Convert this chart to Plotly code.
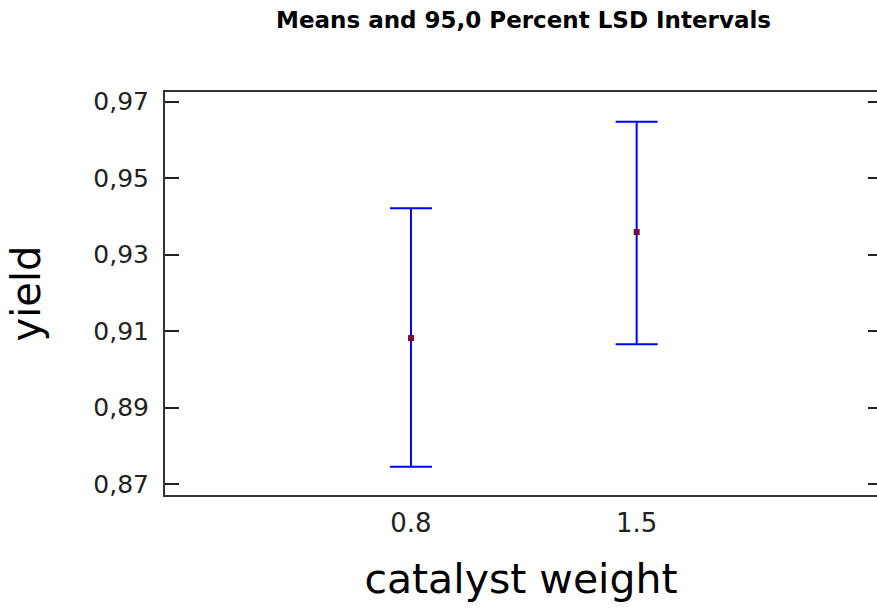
import plotly.graph_objects as go

categories = ["0.8", "1.5"]
means = [0.9082, 0.9359]
upper = [0.9421, 0.9647]
lower = [0.8746, 0.9066]
ytick_vals = [0.87, 0.89, 0.91, 0.93, 0.95, 0.97]
ytick_text = ["0,87", "0,89", "0,91", "0,93", "0,95", "0,97"]

err_plus = [u - m for u, m in zip(upper, means)]
err_minus = [m - l for m, l in zip(means, lower)]

FONT = "DejaVu Sans"
yrange = [0.8672, 0.9725]

fig = go.Figure()
fig.add_trace(go.Scatter(
    x=categories, y=means, mode="markers",
    marker=dict(symbol="square", size=6, color="#7a0a3a"),
    error_y=dict(type="data", symmetric=False, array=err_plus, arrayminus=err_minus,
                 color="#0000ff", thickness=2, width=21),
    showlegend=False,
))
# invisible trace on right axis to show mirrored inside ticks
fig.add_trace(go.Scatter(x=categories, y=means, yaxis="y2", mode="markers",
                         marker=dict(opacity=0), showlegend=False, hoverinfo="skip"))

fig.update_layout(
    width=877, height=609,
    margin=dict(l=165, r=0, t=92, b=114),
    paper_bgcolor="white", plot_bgcolor="white",
    title=dict(text="<b>Means and 95,0 Percent LSD Intervals</b>",
               font=dict(family=FONT, size=23, color="black"),
               x=0.597, xanchor="center", y=0.967, yanchor="middle"),
    xaxis=dict(type="category", range=[-1.09, 2.065], showline=True, mirror=True,
               linecolor="#333333", linewidth=2, ticks="", showgrid=False, zeroline=False,
               tickfont=dict(family=FONT, size=26, color="#222222"), ticklabelstandoff=4,
               title=dict(text="catalyst weight", font=dict(family=FONT, size=41, color="black"),
                          standoff=27)),
    yaxis=dict(range=yrange, tickvals=ytick_vals, ticktext=ytick_text,
               showline=True, mirror=False, linecolor="#333333", linewidth=2,
               ticks="inside", ticklen=14, tickwidth=2, tickcolor="#222222",
               showgrid=False, zeroline=False, ticklabelstandoff=9,
               tickfont=dict(family=FONT, size=25, color="#222222"),
               title=dict(text="yield", font=dict(family=FONT, size=40, color="black"),
                          standoff=40)),
    yaxis2=dict(range=yrange, tickvals=ytick_vals, overlaying="y", side="right",
                showline=False, ticks="inside", ticklen=9, tickwidth=2, tickcolor="#222222",
                showticklabels=False, showgrid=False, zeroline=False),
)

fig.write_html("out.html", config={"displayModeBar": False},
               post_script="document.body.style.margin='0';document.body.style.overflow='hidden';")
